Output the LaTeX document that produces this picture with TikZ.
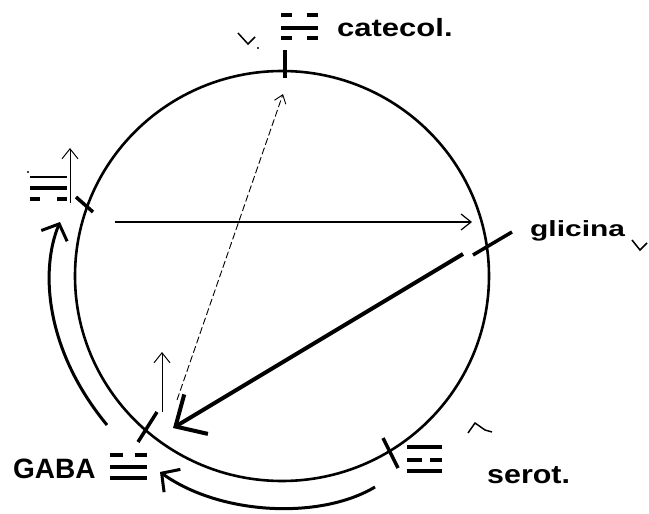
\documentclass[tikz,border=0pt]{standalone}
\usepackage{fontspec}
\setmainfont{Liberation Sans}
\usepackage{graphicx}
\usetikzlibrary{arrows.meta, positioning}

\begin{document}
\begin{tikzpicture}[
    x=1pt, y=-1pt,
    ring/.style={draw, line width=2.6pt},
    tickmark/.style={line width=3.5pt},
    solidbar/.style={line width=4pt},
    thinbar/.style={line width=2pt},
    uparrow/.style={line width=1pt, -{Straight Barb[length=10pt, width=16pt]}},
    thinarrow/.style={line width=1.2pt, -{Straight Barb[length=10pt, width=16pt]}},
    bigarrow/.style={line width=4pt, -{Straight Barb[length=24pt, width=46pt]}},
    curvearrow/.style={line width=3pt, -{Straight Barb[length=13pt, width=28pt]}},
    ntname/.style={inner sep=0pt, anchor=base west}
]
\useasboundingbox (0,0) rectangle (649,514);

% THE RING
\draw[ring] (282,276) ellipse [x radius=207pt, y radius=205pt];

% Points on the ring
\coordinate (top) at (285,72);
\coordinate (left) at (85,204);
\coordinate (right) at (490,245);
\coordinate (gabapt) at (148,428);
\coordinate (serotpt) at (390,452);

% Ticks
\draw[tickmark] (285,50) -- (285,78);
\draw[tickmark] (76,197) -- (93,212);
\draw[tickmark] (473,255) -- (512,232);
\draw[tickmark] (138,442) -- (157,412);
\draw[tickmark] (383,438) -- (398,468);

% Labels
\node[ntname, font=\fontsize{25}{30}\selectfont\bfseries] (catecol) at (337,37) {\scalebox{1.24}[1]{catecol.}};
\node[ntname, font=\fontsize{22}{26}\selectfont\bfseries] (glicina) at (530,236) {\scalebox{1.36}[1]{glicina}};
\node[ntname, font=\fontsize{28}{32}\selectfont\bfseries] (gaba) at (13,478) {GABA};
\node[ntname, font=\fontsize{26}{30}\selectfont\bfseries] (serot) at (487,483) {\scalebox{1.17}[1]{serot.}};

% Symbol: catecol.
\draw[solidbar] (281,15) -- (292,15) (307,15) -- (318,15);
\draw[solidbar] (281,28) -- (318,28);
\draw[solidbar] (281,38) -- (292,38) (307,38) -- (318,38);

% Symbol: left
\draw[thinbar] (30,177) -- (67,177);
\draw[solidbar] (30,188) -- (67,188);
\draw[solidbar] (30,199) -- (40,199) (57,199) -- (67,199);
\fill (28,172) circle [radius=1.2pt];

% Symbol: GABA
\draw[solidbar] (110,455) -- (123,455) (135,455) -- (147,455);
\draw[solidbar] (110,467) -- (147,467);
\draw[solidbar] (110,478) -- (147,478);

% Symbol: serot.
\draw[solidbar] (407,447) -- (442,447);
\draw[solidbar] (407,460) -- (422,460) (430,460) -- (442,460);
\draw[solidbar] (407,471) -- (442,471);

% Small marks
\draw[line width=1.5pt] (238,33) -- (248,44) -- (255,37);
\fill (258,48) circle [radius=1.2pt];
\draw[line width=1.5pt] (632,240) -- (640,250) -- (647,243);
\draw[line width=1.5pt] (468,433) -- (475,423) -- (485,430) -- (492,432);

% Connections
\coordinate (hstart) at (115,222);
\coordinate (hend) at (472,222);
\coordinate (gstart) at (463,254);
\coordinate (gtip) at (173,428);
\coordinate (dstart) at (177,400);
\coordinate (dtip) at (283,94);
\draw[thinarrow] (hstart) -- (hend);
\draw[bigarrow] (gstart) -- (gtip);
\draw[line width=0.9pt, dash pattern=on 7pt off 3pt, -{Straight Barb[length=8pt, width=12pt]}] (dstart) -- (dtip);

\coordinate (u1a) at (70,203);
\coordinate (u1b) at (70,148);
\coordinate (u2a) at (162,412);
\coordinate (u2b) at (162,352);
\draw[uparrow] (u1a) -- (u1b);
\draw[uparrow] (u2a) -- (u2b);

\coordinate (c1a) at (107,425);
\coordinate (c1b) at (60,222);
\coordinate (c2a) at (375,487);
\coordinate (c2b) at (160,472);
\draw[curvearrow] (c1a) .. controls (45,350) and (40,270) .. (c1b);
\draw[curvearrow] (c2a) .. controls (320,520) and (220,515) .. (c2b);

\end{tikzpicture}
\end{document}
